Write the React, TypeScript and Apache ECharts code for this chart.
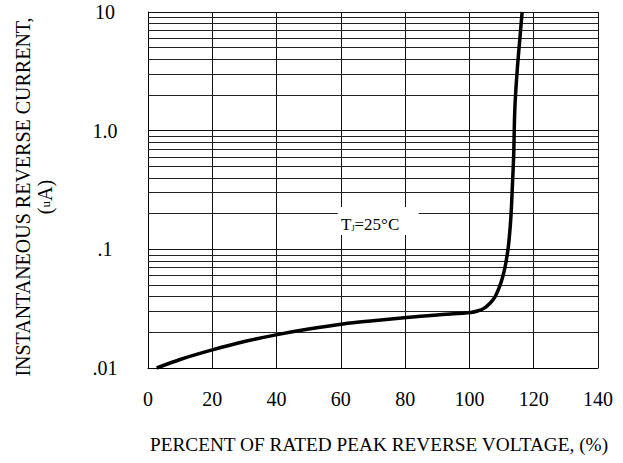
import React, { useEffect, useRef } from "react";
import * as echarts from "echarts";

const voltagePct = [2.7, 10, 20, 30, 41, 50, 60.7, 70, 79.7, 90, 100.5, 102.5, 104.5, 106.4, 108, 109.3, 110.3, 111.1, 112.1, 112.9, 113.4, 113.8, 114.0, 114.3, 115.0, 115.7, 116.4];
const reverseCurrent = [0.01, 0.0118, 0.0142, 0.0167, 0.0193, 0.0213, 0.0235, 0.025, 0.0265, 0.028, 0.0294, 0.0302, 0.0318, 0.0351, 0.04, 0.048, 0.058, 0.0713, 0.105, 0.188, 0.36, 0.66, 1.2, 1.9, 3.6, 6.0, 10];
const xTicks = [0, 20, 40, 60, 80, 100, 120, 140];
const yTickLabels: Record<string, string> = { "0.01": ".01", "0.1": ".1", "1": "1.0", "10": "10" };
const minorGrid = [0.02, 0.03, 0.04, 0.05, 0.06, 0.07, 0.08, 0.09, 0.2, 0.3, 0.4, 0.5, 0.6, 0.7, 0.8, 0.9, 2, 3, 4, 5, 6, 7, 8, 9];
const annotationPos = [71.6, 0.173];

const FONT = "Liberation Serif";

export default function App() {
  const ref = useRef<HTMLDivElement>(null);
  useEffect(() => {
    if (!ref.current) return;
    const chart = echarts.init(ref.current, null, { renderer: "svg" });
    chart.setOption({
      animation: false,
      backgroundColor: "#fff",
      grid: { left: 148, right: 25, top: 12, bottom: 95 },
      xAxis: {
        type: "value",
        min: xTicks[0],
        max: xTicks[xTicks.length - 1],
        interval: 20,
        name: "PERCENT OF RATED PEAK REVERSE VOLTAGE, (%)",
        nameLocation: "middle",
        nameGap: 67,
        nameTextStyle: { fontFamily: FONT, fontSize: 19.3, color: "#000", verticalAlign: "top", padding: [0, 0, 0, 12] },
        axisLine: { show: true, lineStyle: { color: "#000", width: 1 } },
        axisTick: { show: false },
        axisLabel: { margin: 21, fontFamily: FONT, fontSize: 20, color: "#000" },
        splitLine: { show: true, lineStyle: { color: "#111", width: 1, type: "solid" } },
      },
      yAxis: {
        type: "log",
        logBase: 10,
        min: 0.01,
        max: 10,
        name: "{a|INSTANTANEOUS REVERSE CURRENT,}\n{b|(}{s|u}{b|A)}",
        nameLocation: "middle",
        nameRotate: 90,
        nameGap: 92,
        nameTextStyle: {
          fontFamily: FONT,
          color: "#000",
          align: "center",
          padding: [0, 14, 0, 0],
          rich: {
            a: { fontFamily: FONT, fontSize: 20, color: "#000", lineHeight: 22 },
            b: { fontFamily: FONT, fontSize: 20, color: "#000", lineHeight: 22 },
            s: { fontFamily: FONT, fontSize: 13, color: "#000", lineHeight: 22 },
          },
        },
        axisLine: { show: true, lineStyle: { color: "#000", width: 1 } },
        axisTick: { show: false },
        axisLabel: {
          margin: 43,
          align: "center",
          fontFamily: FONT,
          fontSize: 20,
          color: "#000",
          formatter: (v: number) => yTickLabels[String(+v.toPrecision(6))] ?? "",
        },
        splitLine: { show: true, lineStyle: { color: "#111", width: 1, type: "solid" } },
        minorTick: { show: false },
        minorSplitLine: { show: false },
      },
      series: [
        {
          type: "line",
          data: [],
          silent: true,
          z: 1,
          markLine: {
            silent: true,
            symbol: ["none", "none"],
            label: { show: false },
            lineStyle: { color: "#222", width: 1, type: "solid" },
            emphasis: { disabled: true },
            data: minorGrid.map((v) => ({ yAxis: v })),
          },
        },
        {
          type: "line",
          data: voltagePct.map((x, i) => [x, reverseCurrent[i]]),
          showSymbol: false,
          smooth: 0.3,
          z: 5,
          lineStyle: { color: "#000", width: 3.5 },
          markPoint: {
            silent: true,
            symbol: "rect",
            symbolSize: [81, 28],
            itemStyle: { color: "#fff" },
            label: {
              show: true,
              offset: [-8, 3],
              formatter: "T{s|J}=25°C",
              fontFamily: FONT,
              fontSize: 17,
              color: "#000",
              rich: { s: { fontFamily: FONT, fontSize: 8, color: "#000", verticalAlign: "bottom", padding: [7, 0, 0, 0] } },
            },
            data: [{ coord: annotationPos }],
          },
        },
      ],
    });
    return () => chart.dispose();
  }, []);
  return <div ref={ref} style={{ position: "fixed", left: 0, top: 0, width: 623, height: 463 }} />;
}
